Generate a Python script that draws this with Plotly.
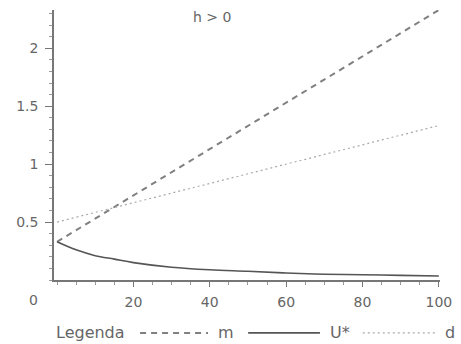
import plotly.graph_objects as go

# Data
x_lin = [0, 100]
m_vals = [0.33, 2.33]
d_vals = [0.5, 1.333]
u_x = [0, 5, 10, 15, 20, 30, 40, 50, 60, 70, 80, 90, 100]
u_vals = [0.33, 0.26, 0.21, 0.18, 0.15, 0.11, 0.088, 0.075, 0.06, 0.05, 0.045, 0.04, 0.035]
x_ticks = [20, 40, 60, 80, 100]
y_ticks = [0.5, 1, 1.5, 2]
y_tick_text = ["0.5", "1", "1.5", "2"]

FONT = "DejaVu Sans"
TXT = "#666666"

fig = go.Figure()
fig.add_trace(go.Scatter(x=x_lin, y=m_vals, mode="lines", name="m",
                         line=dict(color="#808080", width=2, dash="6px,5px")))
fig.add_trace(go.Scatter(x=u_x, y=u_vals, mode="lines", name="U*", line_shape="spline",
                         line=dict(color="#555555", width=1.6)))
fig.add_trace(go.Scatter(x=x_lin, y=d_vals, mode="lines", name="d",
                         line=dict(color="#aaaaaa", width=1.2, dash="2px,3px")))

fig.update_layout(
    width=461, height=344,
    margin=dict(l=54, r=21, t=10, b=64, autoexpand=False),
    paper_bgcolor="white", plot_bgcolor="white",
    showlegend=False,
    font=dict(family=FONT, size=14, color=TXT),
    xaxis=dict(range=[-0.8, 100.3], tickvals=x_ticks, showgrid=False, zeroline=False,
               automargin=False, ticklabelstandoff=3,
               showline=True, linecolor="#777777", linewidth=1.5,
               ticks="outside", ticklen=5, tickcolor="#777777",
               minor=dict(dtick=5, ticks="outside", ticklen=3, tickcolor="#999999"),
               tickfont=dict(family=FONT, size=14, color=TXT)),
    yaxis=dict(range=[0, 2.33], tickvals=y_ticks, ticktext=y_tick_text, showgrid=False,
               automargin=False, ticklabelstandoff=4,
               zeroline=False, showline=True, linecolor="#777777", linewidth=1.5,
               ticks="outside", ticklen=7, tickcolor="#777777",
               minor=dict(dtick=0.1, ticks="outside", ticklen=3, tickcolor="#999999"),
               tickfont=dict(family=FONT, size=14, color=TXT)),
)

ann = [
    dict(text="0", x=-0.054, y=-0.074),
    dict(text="h > 0", x=0.409, y=0.974),
]
for a in ann:
    fig.add_annotation(text=a["text"], x=a["x"], y=a["y"], xref="paper", yref="paper",
                       showarrow=False, xanchor="center", yanchor="middle",
                       font=dict(family=FONT, size=14, color=TXT))

# manual legend
leg_y = -0.196
fig.add_annotation(text="Legenda", x=0.0, y=leg_y, xref="paper", yref="paper",
                   showarrow=False, xanchor="left", yanchor="middle",
                   font=dict(family=FONT, size=16, color=TXT))
items = [
    (0.223, 0.399, "m", dict(color="#808080", width=2, dash="6px,5px")),
    (0.503, 0.689, "U*", dict(color="#555555", width=1.6)),
    (0.800, 0.987, "d", dict(color="#aaaaaa", width=1.2, dash="2px,3px")),
]
for x0, x1, name, ln in items:
    fig.add_shape(type="line", xref="paper", yref="paper", x0=x0, x1=x1, y0=leg_y, y1=leg_y,
                  line=ln)
    fig.add_annotation(text=name, x=x1 + 0.02, y=leg_y, xref="paper", yref="paper",
                       showarrow=False, xanchor="left", yanchor="middle",
                       font=dict(family=FONT, size=16, color=TXT))

fig.write_html("out.html", config={"displayModeBar": False},
               post_script="document.body.style.margin='0';document.body.style.overflow='hidden';")
